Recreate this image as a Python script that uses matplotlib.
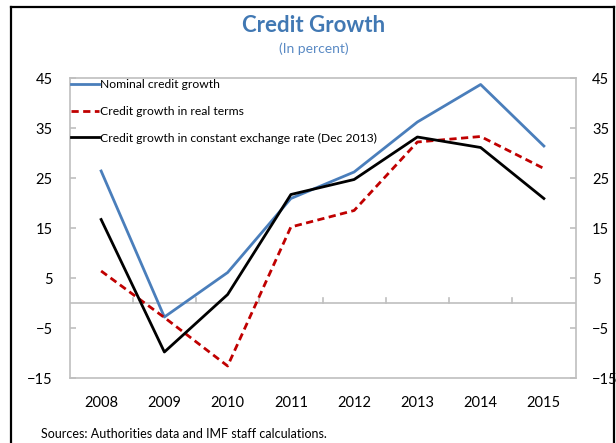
import matplotlib
matplotlib.use("Agg")
import matplotlib.pyplot as plt
from matplotlib.lines import Line2D

years = ["2008", "2009", "2010", "2011", "2012", "2013", "2014", "2015"]
nominal = [26.4, -2.8, 6.1, 20.9, 26.2, 36.2, 43.7, 31.4]
real_terms = [6.4, -2.9, -12.6, 15.2, 18.5, 32.2, 33.3, 26.9]
constant_fx = [16.7, -9.8, 1.7, 21.7, 24.7, 33.2, 31.1, 20.9]
y_ticks = [-15, -5, 5, 15, 25, 35, 45]

series_labels = [
    "Nominal credit growth",
    "Credit growth in real terms",
    "Credit growth in constant exchange rate (Dec 2013)",
]

plt.rcParams["font.family"] = ["Lato", "DejaVu Sans"]

W, H = 616, 443
fig = plt.figure(figsize=(W / 100, H / 100), dpi=100)
ax = fig.add_axes([69.5 / W, 65 / H, 506 / W, 300 / H])

x = list(range(len(years)))
gray = "#bfbfbf"

ax.plot(x, nominal, color="#4a7ebb", lw=2.0, label=series_labels[0])
ax.plot(x, real_terms, color="#c00000", lw=2.0, ls=(0, (2.6, 1.6)), label=series_labels[1])
ax.plot(x, constant_fx, color="black", lw=2.0, label=series_labels[2])

ax.set_xlim(-0.5, len(years) - 0.5)
ax.set_ylim(-15, 45)
ax.set_yticks(y_ticks)
ax.set_xticks(x)
ax.set_xticklabels(years)

# zero line with category separators
ax.axhline(0, color=gray, lw=1.2, zorder=1)
for b in range(1, len(years)):
    ax.plot([b - 0.5, b - 0.5], [0, 1.0], color=gray, lw=1.2, zorder=1)

for s in ax.spines.values():
    s.set_color(gray)
    s.set_linewidth(1.2)

ax.tick_params(axis="y", which="both", direction="in", length=4, width=1.2,
               color=gray, labelsize=10.5, left=True, right=True,
               labelleft=True, labelright=True, pad=12)
ax.tick_params(axis="x", length=0, labelsize=10.5, pad=13)

leg = ax.legend(loc="upper left", bbox_to_anchor=(0.0, 1.0), frameon=False,
                fontsize=8.7, handlelength=2.35, handletextpad=0.1,
                labelspacing=1.3, borderaxespad=0.0, borderpad=0.1)

fig.text(314 / W, 1 - 26 / H, "Credit Growth", ha="center", va="center",
         fontsize=16, fontweight="bold", color="#4178b3")
fig.text(314 / W, 1 - 49 / H, "(In percent)", ha="center", va="center",
         fontsize=10, color="#5a8ac4")
fig.text(41 / W, 1 - 434 / H, "Sources: Authorities data and IMF staff calculations.",
         ha="left", va="center", fontsize=9, color="black")

# outer frame
fig.add_artist(Line2D([11 / W, 11 / W], [0, 1 - 7 / H], color="black", lw=1.6,
                      transform=fig.transFigure))
fig.add_artist(Line2D([11 / W, 614 / W], [1 - 7 / H, 1 - 7 / H], color="black", lw=1.6,
                      transform=fig.transFigure))
fig.add_artist(Line2D([614 / W, 614 / W], [0, 1 - 7 / H], color="black", lw=1.6,
                      transform=fig.transFigure))

fig.savefig("out.png", dpi=100)
